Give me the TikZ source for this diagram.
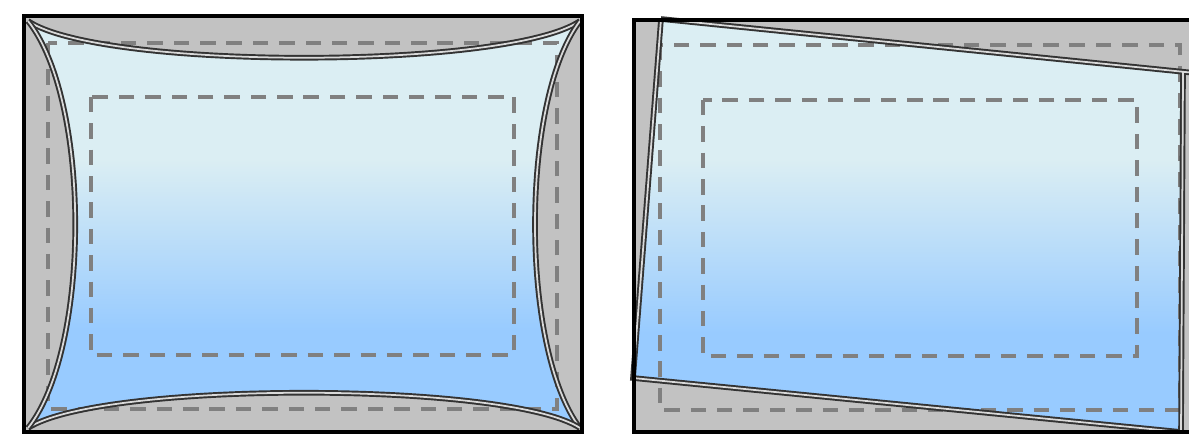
\documentclass[tikz,border=0pt]{standalone}
\definecolor{screengray}{RGB}{194,194,194}
\definecolor{skytop}{RGB}{219,238,243}
\definecolor{skybottom}{RGB}{152,203,255}
\pgfdeclareverticalshading{sky}{100bp}{color(0bp)=(skybottom); color(37bp)=(skybottom); color(58bp)=(skytop); color(100bp)=(skytop)}
\begin{document}
\begin{tikzpicture}[x=0.01cm, y=-0.01cm,
  frame/.style={line width=1.3pt, black},
  guide/.style={draw=black!50, line width=1pt, dash pattern=on 4.4pt off 3.1pt},
  edge/.style={draw=black!80, line width=0.55pt, double=white!70!gray, double distance=0.5pt}]
\useasboundingbox (0,0) rectangle (1189,434);
\clip (0,0) rectangle (1189,434);

\coordinate (A) at (28,21);
\coordinate (B) at (580,21);
\coordinate (C) at (580,428);
\coordinate (D) at (28,428);

\fill[screengray] (24,16) rectangle (582,432);
\shade[shading=sky] (A) .. controls (100,70) and (508,70) .. (B)
  .. controls (520,100) and (520,349) .. (C)
  .. controls (508,381) and (100,381) .. (D)
  .. controls (91,349) and (91,100) .. (A) -- cycle;
\draw[guide] (48,43) rectangle (557,409);
\draw[guide] (91,97) rectangle (514,355);
\draw[edge] (A) .. controls (100,70) and (508,70) .. (B);
\draw[edge] (B) .. controls (520,100) and (520,349) .. (C);
\draw[edge] (C) .. controls (508,381) and (100,381) .. (D);
\draw[edge] (D) .. controls (91,349) and (91,100) .. (A);
\draw[frame] (24,16) rectangle (582,432);

\coordinate (A) at (661,19);
\coordinate (B) at (1183,72);
\coordinate (C) at (1181,432);
\coordinate (D) at (633,378);
\coordinate (E) at (1195,73);

\fill[screengray] (634,20) rectangle (1220,432);
\shade[shading=sky] (A) -- (B) -- (C) -- (D) -- cycle;
\draw[guide] (660,45) rectangle (1180,410);
\draw[guide] (703,100) rectangle (1137,356);
\draw[edge] (A) -- (E) (B) -- (C) -- (D) -- (A);
\draw[frame] (634,20) rectangle (1220,432);
\end{tikzpicture}
\end{document}
